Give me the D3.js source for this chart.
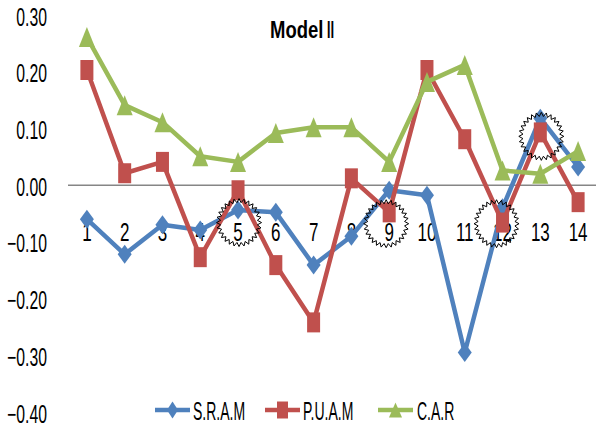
<!DOCTYPE html>
<html>
<head>
<meta charset="utf-8">
<script src="https://cdn.jsdelivr.net/npm/d3@7"></script>
<style>
  html, body { margin: 0; padding: 0; background: #ffffff; }
  svg { display: block; }
  text { font-family: "Liberation Sans", Arial, sans-serif; fill: #000; }
</style>
</head>
<body>
<svg id="chart" width="596" height="432"></svg>
<script>
// ---- data ----
const categories = ["1","2","3","4","5","6","7","8","9","10","11","12","13","14"];
const sram = [-0.060,-0.122,-0.070,-0.079,-0.044,-0.048,-0.141,-0.090,-0.009,-0.018,-0.295,-0.040,0.118,0.032];
const puam = [0.203,0.021,0.041,-0.127,-0.009,-0.141,-0.242,0.012,-0.048,0.203,0.081,-0.066,0.093,-0.030];
const car  = [0.261,0.141,0.111,0.051,0.041,0.092,0.102,0.102,0.041,0.182,0.212,0.026,0.020,0.060];
const seriesNames = ["S.R.A.M","P.U.A.M","C.A.R"];
const yTicks = [0.30,0.20,0.10,0.00,-0.10,-0.20,-0.30,-0.40];
// starburst annotations: [category, value]
const starCats = ["5","9","12","13"];
const starVals = [-0.066,-0.068,-0.068,0.086];
const starDx = [1, -3, -6, 1];

const colors = ["#4F81BD","#C0504D","#9BBB59"];
const shapes = ["diamond","square","triangle"];
const seriesData = [sram, puam, car];

const svg = d3.select("#chart");
const x = d3.scaleBand().domain(categories).range([68, 597]).padding(0);
const cx = c => x(c) + x.bandwidth() / 2;
const y = d3.scaleLinear().domain([-0.4, 0.3]).range([412, 15]);

// scaled-text helper
function stext(g, tx, ty, sx, sy, str, anchor, size, weight) {
  const gg = g.append("g").attr("transform", `translate(${tx},${ty}) scale(${sx},${sy})`);
  return gg.append("text").attr("text-anchor", anchor)
    .style("font-size", size + "px").style("font-weight", weight || "normal").text(str);
}

// y tick labels
const yAxisG = svg.append("g").attr("class", "y-labels");
const fmt = d3.format(".2f");
yTicks.forEach(t => {
  stext(yAxisG, 47, y(t) + 10.5, 0.63, 1, fmt(t), "end", 25);
});

// zero line
svg.append("line").attr("x1", 68).attr("x2", 596).attr("y1", y(0)).attr("y2", y(0))
  .attr("stroke", "#868686").attr("stroke-width", 1.5);

// category labels
const catG = svg.append("g");
categories.forEach(c => stext(catG, cx(c), 241, 0.68, 1, c, "middle", 25));

// marker path generator
function markerPath(shape, w, h) {
  const hw = w / 2, hh = h / 2;
  if (shape === "diamond") return `M0,${-hh}L${hw},0L0,${hh}L${-hw},0Z`;
  if (shape === "square") return `M${-hw},${-hh}H${hw}V${hh}H${-hw}Z`;
  return `M0,${-hh}L${hw},${hh}L${-hw},${hh}Z`;
}
const markerSize = { diamond: [14, 19], square: [13, 20], triangle: [16, 20] };

// lines & markers
const line = d3.line().x(d => cx(d.c)).y(d => y(d.v));
seriesData.forEach((vals, i) => {
  const pts = categories.map((c, k) => ({ c, v: vals[k] }));
  const g = svg.append("g");
  g.append("path").attr("d", line(pts)).attr("fill", "none")
    .attr("stroke", colors[i]).attr("stroke-width", 4.5).attr("stroke-linejoin", "round");
  const [mw, mh] = markerSize[shapes[i]];
  g.selectAll("path.m").data(pts).enter().append("path").attr("class", "m")
    .attr("d", markerPath(shapes[i], mw, mh))
    .attr("transform", d => `translate(${cx(d.c)},${y(d.v)})`)
    .attr("fill", colors[i]);
});

// starbursts
function starPath(rOutX, rOutY, rInX, rInY, n) {
  let p = "";
  for (let k = 0; k < 2 * n; k++) {
    const a = Math.PI * k / n - Math.PI / 2;
    const out = k % 2 === 0;
    const px = Math.cos(a) * (out ? rOutX : rInX);
    const py = Math.sin(a) * (out ? rOutY : rInY);
    p += (k === 0 ? "M" : "L") + px.toFixed(2) + "," + py.toFixed(2);
  }
  return p + "Z";
}
starCats.forEach((c, k) => {
  svg.append("path").attr("d", starPath(22.5, 24, 18.5, 20, 28))
    .attr("transform", `translate(${cx(c) + starDx[k]},${y(starVals[k])})`)
    .attr("fill", "none").attr("stroke", "#000").attr("stroke-width", 1);
});

// title
const tg = svg.append("g");
stext(tg, 270, 38, 0.77, 1, "Model", "start", 24, "bold");
stext(tg, 326, 38, 0.8, 1, "Ⅱ", "start", 23, "normal").style("font-family", "DejaVu Sans");

// legend
const legend = [
  { x1: 155, x2: 190, tx: 193 },
  { x1: 265, x2: 300, tx: 303 },
  { x1: 378, x2: 413, tx: 417 }
];
const legSize = { diamond: [11, 17], square: [11, 17], triangle: [13, 15] };
legend.forEach((L, i) => {
  const g = svg.append("g");
  g.append("line").attr("x1", L.x1).attr("x2", L.x2).attr("y1", 410).attr("y2", 410)
    .attr("stroke", colors[i]).attr("stroke-width", 4.5);
  const [mw, mh] = legSize[shapes[i]];
  g.append("path").attr("d", markerPath(shapes[i], mw, mh))
    .attr("transform", `translate(${(L.x1 + L.x2) / 2},410)`).attr("fill", colors[i]);
  stext(g, L.tx, 420, 0.56, 1, seriesNames[i], "start", 25);
});
</script>
</body>
</html>
